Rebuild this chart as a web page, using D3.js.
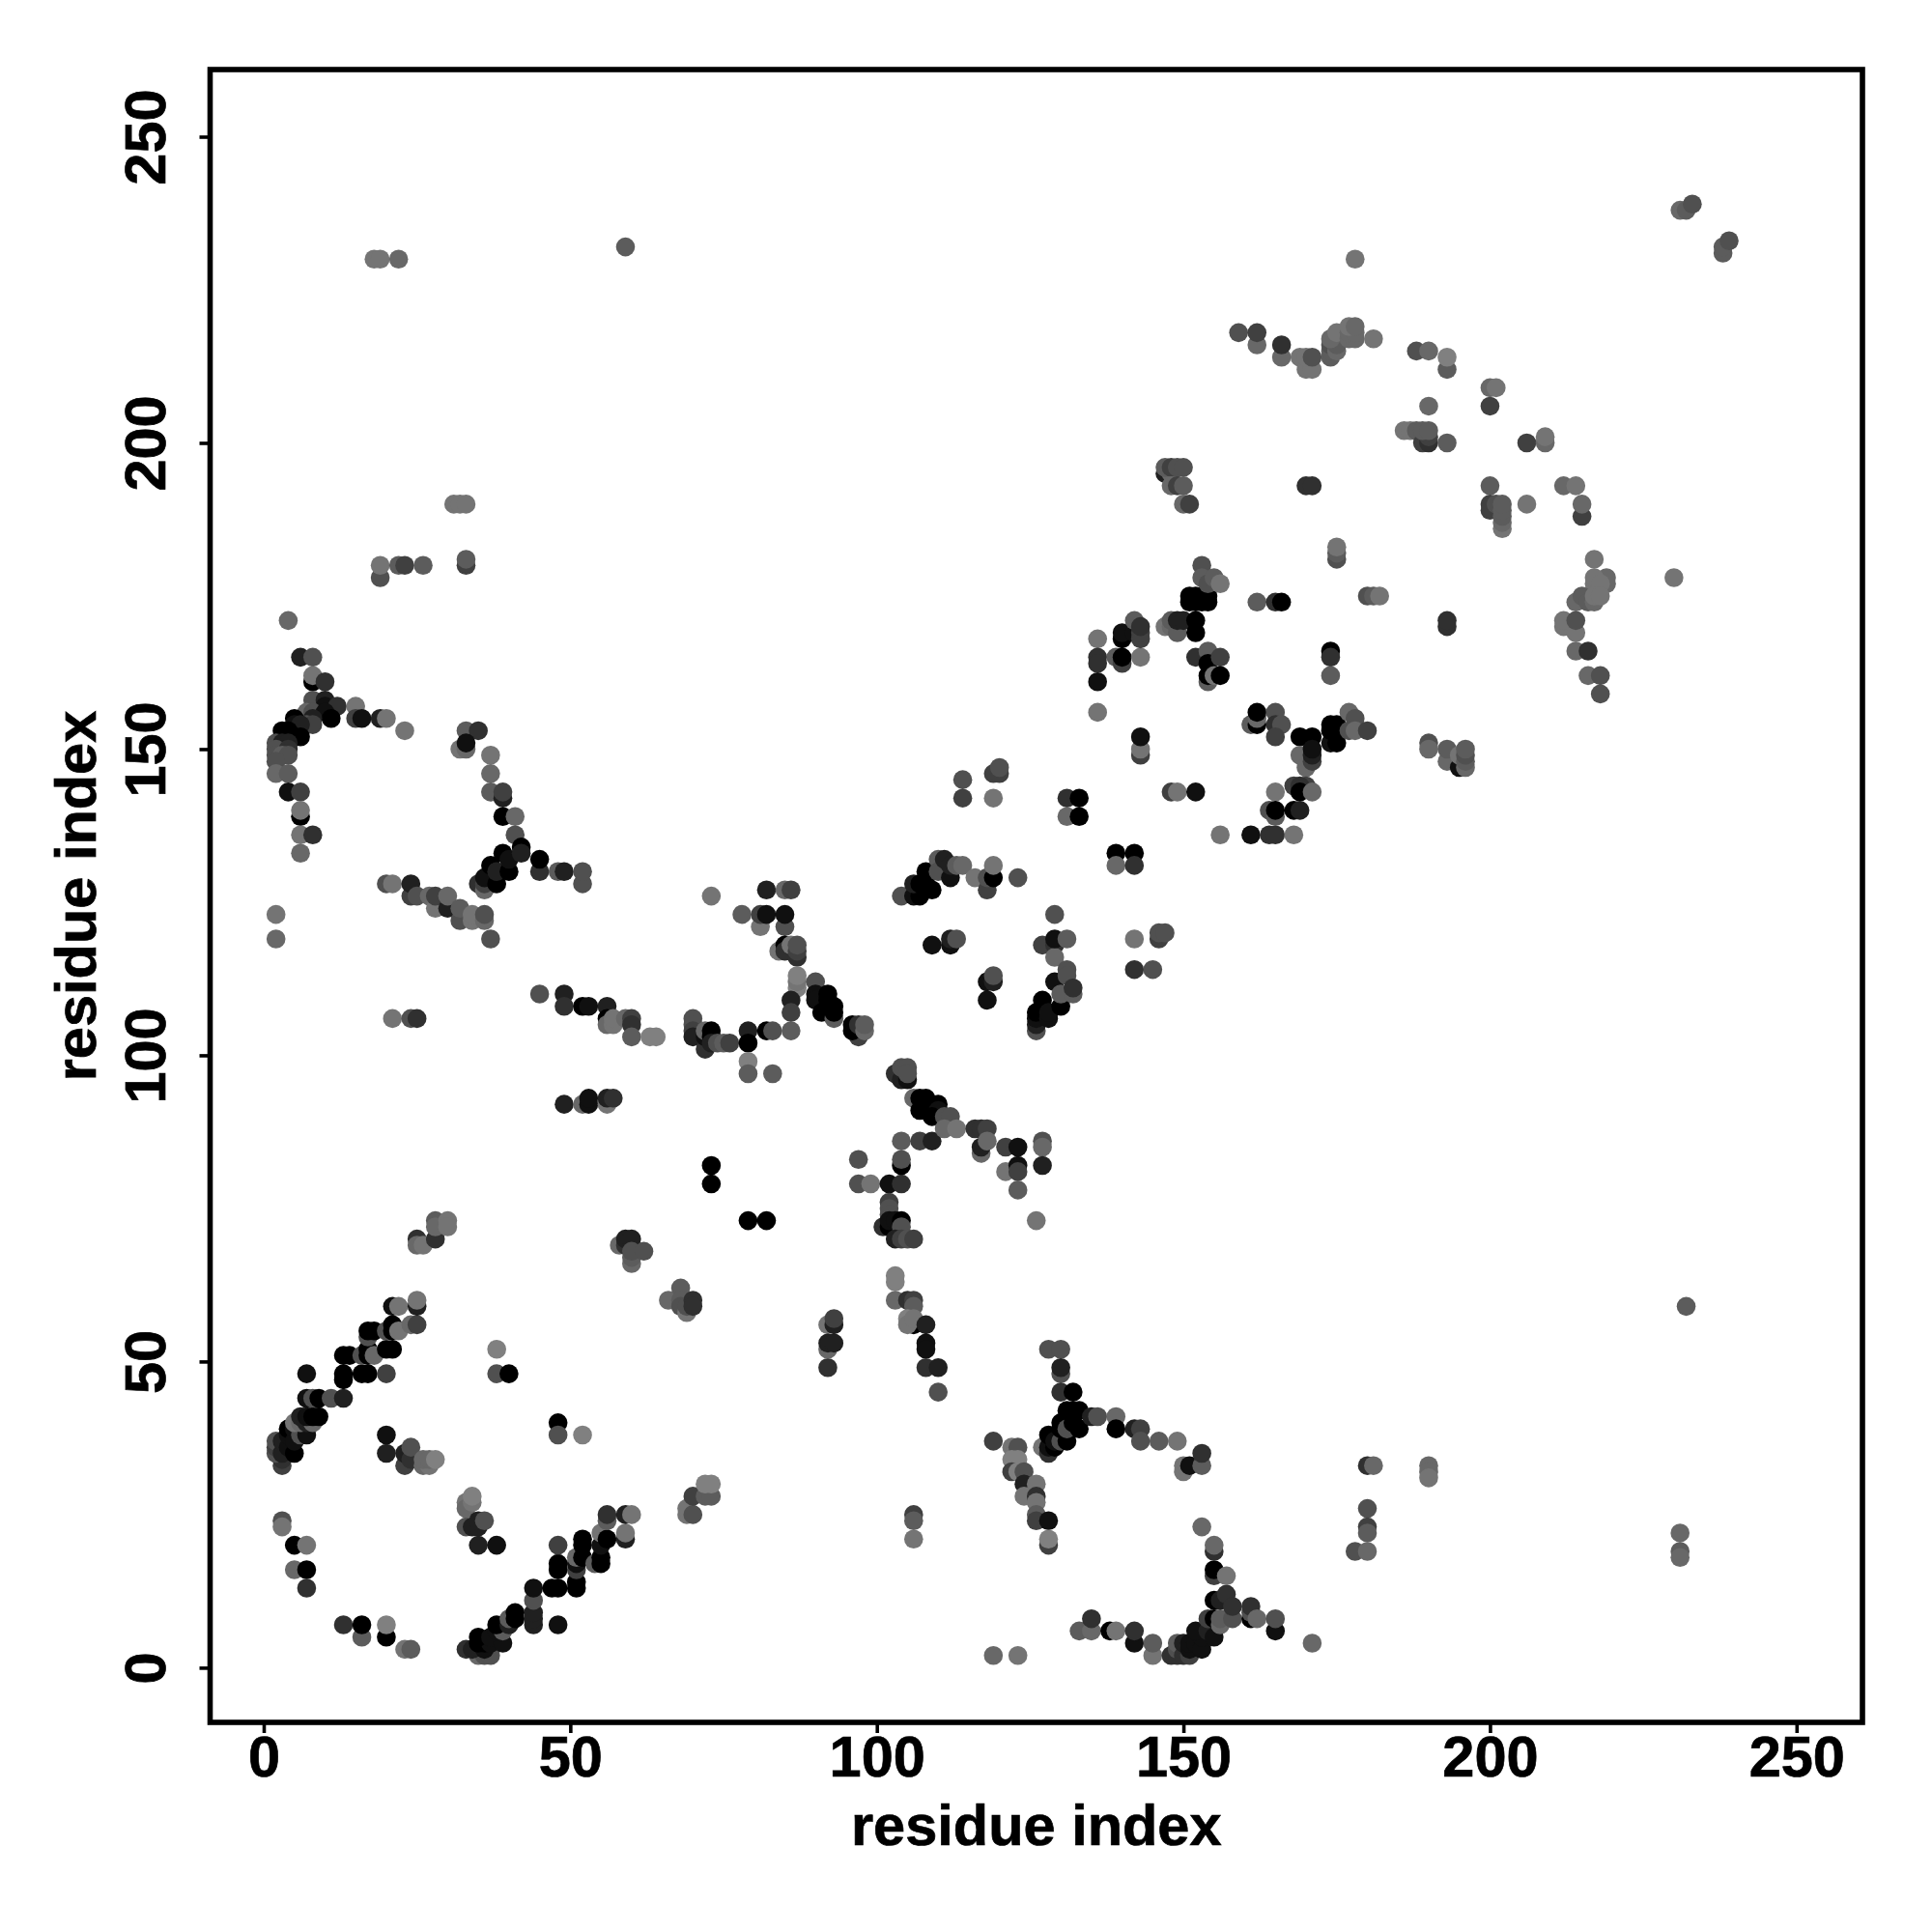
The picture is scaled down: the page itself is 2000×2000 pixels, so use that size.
<!DOCTYPE html>
<html>
<head>
<meta charset="utf-8">
<script src="https://cdn.jsdelivr.net/npm/d3@7"></script>
<style>
  body { margin: 0; background: #fff; }
  text { font-family: "Liberation Sans", Arial, sans-serif; font-weight: bold; fill: #000; stroke: #000; stroke-width: 0.7px; }
</style>
</head>
<body>
<div id="chart"></div>
<script>
const TICKS = [0, 50, 100, 150, 200, 250];
const AXIS_LABEL = 'residue index';

// each contact: [residue i, residue j, strength 1 (weak) .. 10 (strong)]
const bandLowerLeft = [
  [3,33,6],[3,34,7],[2,35,5],[2,36,6],[2,37,5],[3,35,8],[3,37,8],[4,36,9],[5,35,10],[4,38,9],[4,39,10],[5,37,9],[5,39,9],
  [6,38,5],[7,38,9],[5,40,2],[6,40,3],[7,40,8],[8,40,3],[6,41,8],[7,41,9],[8,41,10],[9,41,10],
  [7,44,9],[8,44,5],[9,44,10],[11,44,5],[13,44,8],[7,48,9],[13,47,10],[13,48,10],[16,48,10],[17,48,10],[20,48,6],
  [13,51,10],[14,51,10],[16,51,5],[17,51,10],[17,52,10],[18,51,3],[20,52,10],[21,52,10],
  [17,54,5],[17,55,10],[18,55,10],[20,55,5],[21,56,10],[21,55,10],[22,55,2],[24,56,3],[25,56,6],
  [21,59,9],[22,59,2],[25,59,8],[25,60,2]
];
const patchLowerLeft = [
  [20,38,9],[20,35,8],[23,33,6],[23,35,8],[24,34,7],[24,36,5],[26,33,3],[27,33,2],[26,34,3],[27,34,3],[28,34,1],
  [38,52,1],[38,48,5],[40,48,10],[48,40,10],[48,38,5],[52,38,1],
  [3,24,5],[3,23,2],[5,20,10],[7,20,2],[5,16,3],[7,16,10],[7,13,7],
  [13,7,7],[16,5,4],[16,7,10],[20,5,10],[20,7,1],[23,3,2],[24,3,4],
  [33,23,5],[34,23,8],[33,27,2],[33,26,3],[34,27,2],[34,28,1],[35,23,8],[35,24,8],[36,24,5],[35,20,8],[38,20,9],
  [25,70,7],[25,69,3],[26,69,2],[28,70,7],[28,73,4],[28,72,3],[30,73,2],[30,72,2]
];
const bandStrandOne = [
  [33,3,7],[35,2,3],[36,2,5],[37,2,5],[34,3,8],[36,3,9],[35,4,10],[36,4,10],[37,4,9],[35,5,10],[37,5,9],[39,4,9],
  [38,6,9],[39,6,4],[38,7,10],[40,7,8],[40,8,4],[41,8,10],[41,9,10],[44,7,8],[44,8,8],[44,9,8],[44,11,5],[44,13,9],
  [47,13,10],[48,13,10],[48,7,9],[51,13,10],[51,14,10],[48,16,10],[48,17,10],[48,20,6],[51,16,6],[51,17,9],[51,18,3],
  [52,18,10],[54,17,4],[55,17,10],[55,18,10],[52,20,10],[52,21,10],[55,20,9],[55,22,2],[56,21,10],
  [59,21,8],[59,22,2],[56,24,4],[56,25,7],[59,25,8],[60,25,2]
];
const patchMiddleLow = [
  [69,25,2],[69,26,2],[70,25,5],[70,28,6],[72,28,4],[73,28,4],[72,30,1],[73,30,1],
  [66,60,3],[68,62,4],[68,60,4],[68,59,5],[69,58,2],[69,59,5],[70,60,7],[70,59,7],
  [58,69,3],[59,69,7],[59,70,8],[60,70,8],[60,66,3],[60,67,4],[60,68,5],[62,68,5],
  [73,82,10],[73,79,10],[79,73,10],[82,73,10],
  [92,49,7],[92,52,3],[92,56,2],[92,53,8],[93,53,8],[93,56,8],[93,57,6],
  [103,64,1],[103,63,1],[103,60,3],[105,60,7],[106,60,6],[106,59,4],[105,57,1],[106,56,10],[105,56,2],[106,57,2],
  [108,56,8],[108,53,9],[108,52,9],[108,49,7],[110,49,8],[110,45,5],
  [106,25,6],[106,24,4],[106,21,2]
];
const strandMiddleHigh = [
  [97,83,5],[97,79,5],[99,79,2],[102,79,9],[104,79,7],[104,82,10],[104,83,5],[104,86,4],[107,86,6],[109,86,8],
  [102,76,6],[102,75,5],[102,74,5],[101,72,7],[102,72,10],[102,73,9],[103,73,9],[104,73,10],[104,72,5],
  [103,70,8],[104,70,6],[105,70,5],[106,70,6],
  [103,97,7],[104,96,8],[105,96,9],[104,98,5],[105,98,5],[105,97,5],
  [106,93,3],[107,93,10],[108,93,10],[107,91,10],[108,92,10],[110,92,10],[110,91,9],[109,90,10],[111,90,5],[112,90,5],
  [111,88,3],[113,88,2],[116,88,7],[117,88,7],[118,88,6],[117,84,3],[117,85,8],[118,86,3],
  [121,85,6],[123,85,9],[121,81,2],[123,82,9],[123,81,6],[123,78,4],[127,86,5],[127,85,3],[127,82,8],[126,73,2]
];
const bandTopLeft = [
  [4,171,3],[6,165,8],[8,165,5],[8,161,10],[8,162,2],[10,161,7],[8,158,5],[10,158,8],[10,157,9],[12,157,7],[15,157,2],
  [7,156,3],[8,156,5],[10,156,9],[11,155,10],[8,155,8],[7,154,5],[8,154,6],[5,155,10],[5,154,9],[6,154,8],[6,152,10],
  [3,153,10],[4,153,10],[5,152,10],[2,151,5],[3,151,8],[4,151,8],[2,150,5],[4,150,7],[2,149,5],[3,149,4],[4,149,5],[2,148,5],
  [2,146,3],[4,146,4],[4,143,9],[6,143,6],[6,139,10],[6,140,2],[6,136,2],[8,136,7],[6,133,3],
  [15,155,6],[16,155,9],[19,155,8],[20,155,2],[23,153,2],[2,123,2],[2,119,3]
];
const bandHelixTwo = [
  [33,153,4],[35,153,7],[32,150,2],[33,150,3],[33,151,9],[37,149,2],[37,146,3],[37,143,4],[39,142,8],[39,143,6],[39,139,10],[41,139,3],
  [41,136,5],[35,128,7],[36,127,3],[36,128,6],[36,129,9],[37,131,10],[38,128,10],[38,130,8],[39,133,10],[40,130,10],[40,132,9],
  [42,134,10],[42,133,8],[45,130,7],[45,132,10],[48,130,4],[49,130,8],[52,128,5],[52,130,5],
  [20,128,5],[21,128,2],[24,126,6],[24,128,8],[25,126,5],[27,126,3],[28,124,2],[28,126,6],[30,124,8],[30,126,3],[32,122,5],[32,124,4],
  [34,122,2],[34,123,2],[36,122,3],[36,123,5],[37,119,5]
];
const sparseTopLeft = [
  [18,230,2],[19,230,2],[22,230,3],[59,232,4],[31,190,2],[32,190,2],[33,190,2],
  [19,178,5],[19,180,2],[22,180,4],[23,180,6],[26,180,4],[33,180,6],[33,181,4],
  [21,106,2],[24,106,5],[25,106,7],[49,92,8],[52,92,3],[53,92,9],[53,93,9],[56,92,2],[56,93,8],[57,93,7]
];
const bandDiagonalLeft = [
  [45,110,5],[49,110,8],[49,108,7],[52,108,10],[53,108,9],[56,108,8],[56,106,10],[56,105,3],[57,105,2],[57,106,2],[59,106,3],
  [60,106,6],[60,105,7],[60,103,4],[63,103,1],[64,103,1],
  [70,106,5],[70,105,5],[70,104,6],[70,103,8],[72,101,7],[72,103,9],[72,104,3],[73,103,10],[73,104,10],[73,102,8],[74,102,5],[75,102,4],[76,102,6],
  [79,104,8],[79,102,10],[79,99,1],[79,97,4],[83,97,4],[82,104,10],[83,104,5],[86,104,4],
  [73,126,2],[82,127,8],[85,127,3],[86,127,6],[78,123,4],[81,121,2],[81,123,6],[82,123,9],[85,121,5],[85,123,9],
  [84,117,2],[85,118,10],[85,117,7],[86,118,2],[87,116,7],[87,117,6],[87,118,5],
  [87,111,1],[87,112,2],[87,113,1],[90,112,5],[86,109,8],[86,107,6],[90,110,9],[90,109,9],[91,107,10],[92,110,10],[92,109,10],
  [93,106,4],[93,108,10],[93,107,10],[97,103,6],[96,105,10],[96,104,10],[97,105,7],[98,104,3],[98,105,4]
];
const patchCenterRight = [
  [104,126,5],[106,126,9],[107,126,10],[106,128,8],[107,128,10],[108,128,10],[109,127,10],[108,130,10],[110,132,4],[110,130,5],[111,132,8],
  [112,129,9],[112,131,8],[113,131,4],[114,131,3],[116,129,2],[118,127,6],[118,129,5],[119,129,10],[119,131,2],[123,129,5],
  [114,145,5],[114,142,6],[119,146,6],[120,146,6],[120,147,5],[119,142,2],
  [131,142,7],[133,142,10],[131,139,3],[133,139,10],[139,133,10],[142,133,10],[139,131,3],[142,131,7],
  [109,118,9],[112,118,9],[112,119,8],[113,119,5],[118,112,9],[119,112,8],[119,113,5],[118,109,9],
  [129,123,5],[127,118,6],[129,118,7],[129,116,3],[129,119,9],[131,119,4],
  [126,104,5],[126,105,8],[126,106,9],[126,107,10],[127,109,10],[128,106,9],[128,107,9],[129,112,9],[130,108,10],[130,110,4],
  [131,114,5],[131,113,5],[132,110,4],[132,111,7],
  [142,119,2],[146,119,6],[146,120,5],[147,120,5],[142,114,7],[145,114,5]
];
const bandLowerRight = [
  [128,52,5],[130,52,5],[130,48,5],[130,49,8],[130,45,7],[132,45,10],
  [127,36,2],[128,35,7],[128,36,9],[128,38,10],[129,36,10],[129,37,9],[130,37,5],[131,37,10],[130,39,10],[130,40,10],[131,39,5],[132,40,10],
  [131,42,10],[132,42,10],[133,42,10],[133,39,10],[135,41,8],[136,41,5],[139,41,3],[139,39,10],[142,39,8],[143,39,6],[143,37,5],[146,37,4],[149,37,2],
  [150,32,2],[150,33,2],[151,33,9],[153,33,4],[153,35,7],
  [119,37,6],[122,36,2],[123,36,5],[122,34,1],[123,34,1],[122,32,6],[123,32,1],[124,32,5],[124,30,8],[126,30,2],[124,28,2],[126,28,7],[126,27,2],
  [126,25,4],[126,24,6],[128,24,9],[128,20,6],[128,21,1],
  [119,2,3],[123,2,2],[133,6,4],[135,6,3],[135,8,7],[138,6,10],[139,6,2],[142,4,9],[142,6,7],[145,2,2],[145,4,4],[171,4,3],
  [148,2,7],[149,2,7],[149,3,5],[149,4,4],[150,2,7],[151,2,6],[150,4,8],[151,3,9],[151,4,9],[152,4,9],[153,3,9],[153,5,9],[152,6,9],[154,6,8],[155,5,9],
  [154,8,6],[155,8,10],[156,7,3],[156,8,4],[158,8,5],[155,11,10],[156,11,8],[157,12,7],[158,10,7],
  [161,8,10],[161,9,5],[161,10,7],[162,8,3],[165,6,9],[165,8,5],
  [155,15,6],[155,16,10],[157,15,2],[155,19,7],[155,20,3],[153,23,3]
];
const sparseLowerRight = [
  [180,33,7],[181,33,3],[190,33,3],[190,32,3],[190,31,2],[180,26,5],[180,23,6],[180,22,4],[178,19,5],[180,19,3],
  [232,59,4],[231,22,3],[231,19,4],[231,18,3]
];
const patchUpperRight = [
  [136,168,2],[136,165,7],[136,164,7],[136,161,9],[136,156,2],[139,165,4],[140,164,6],[140,165,10],[140,168,10],[140,169,9],
  [142,169,9],[142,171,4],[143,165,2],[143,168,6],[143,169,6],[143,170,7],[143,149,6],[143,150,2],[143,152,9],
  [147,170,2],[148,170,3],[148,171,4],[149,169,4],[149,171,8],[150,171,8],[152,169,10],[152,171,10],
  [151,174,10],[152,174,10],[153,174,10],[154,174,10],[151,175,10],[152,175,10],[153,175,10],[154,175,10],
  [153,180,5],[153,178,4],[154,177,5],[155,178,4],[156,177,2],
  [152,165,7],[154,166,4],[154,164,10],[156,165,6],[154,161,4],[154,162,10],[155,162,2],[156,162,10],
  [162,174,4],[165,174,7],[166,174,10],[174,166,10],[174,165,7],[174,162,4],
  [161,154,4],[162,154,10],[162,155,3],[162,156,10],[165,156,5],[165,154,7],[166,154,5],[165,152,6],
  [169,152,10],[171,152,10],[169,149,3],[170,147,3],[171,148,6],[171,149,8],[171,150,9],
  [174,151,9],[175,151,10],[174,153,10],[175,153,10],[174,154,10],[175,154,10],[177,156,3],[178,155,5],[177,153,5],[178,153,3],[180,153,6],
  [148,143,6],[149,143,2],[152,143,9],[156,136,2],[161,136,9],[164,136,7],[165,136,7],[168,136,2],
  [165,143,2],[168,144,6],[170,144,6],[169,144,7],[169,143,10],[171,143,3],
  [164,140,5],[165,139,4],[165,140,10],[168,140,10],[169,140,8],
  [190,151,5],[190,150,3],[193,148,3],[193,150,4],[195,147,9],[195,149,2],[196,147,3],[196,148,4],[196,149,5],[196,150,4]
];
const bandTopRight = [
  [147,195,8],[148,195,3],[147,196,4],[148,196,6],[149,196,5],[150,196,5],[148,193,3],[149,193,6],[150,193,4],[150,190,3],[151,190,6],
  [170,193,7],[171,193,7],[175,181,5],[175,182,4],[175,183,2],[180,175,5],[181,175,4],[182,175,2],[193,170,7],[193,171,7],
  [159,218,5],[162,216,3],[162,218,6],[166,214,3],[166,216,7],[169,214,2],[170,212,2],[171,212,2],[170,214,2],[171,214,5],
  [174,214,4],[174,215,4],[174,216,5],[175,215,3],[175,216,4],[174,217,3],[175,218,2],
  [177,217,3],[178,217,3],[177,218,3],[178,218,3],[177,219,2],[178,219,3],[181,217,2],[178,230,2],
  [188,215,5],[190,215,3],[193,212,4],[193,214,1],[200,206,6],[200,209,3],[201,209,2],[190,206,3],
  [186,202,2],[187,202,2],[188,202,4],[189,200,6],[190,200,7],[190,201,6],[189,202,4],[190,202,4],[193,200,4],
  [206,200,6],[209,200,3],[209,201,2],
  [200,193,4],[200,190,6],[200,189,6],[201,190,5],[206,190,2],[202,186,2],[202,187,3],[202,188,4],[202,189,4],[202,190,4],
  [212,193,3],[214,193,2],[215,188,6],[215,190,3],
  [217,181,2],[219,177,3],[219,178,3],[217,177,2],[217,178,2],[218,177,2],[214,174,3],[215,175,4],[216,174,4],[217,174,3],[217,175,2],[218,175,2],
  [212,170,2],[212,171,2],[214,169,2],[214,171,5],[214,166,3],[216,166,7],[216,162,3],[218,162,5],[218,159,5],
  [230,178,2],[231,238,3],[232,238,4],[233,239,5],[238,231,4],[238,232,4],[239,233,5]
];

const contacts = [].concat(
  bandLowerLeft, patchLowerLeft, bandStrandOne, patchMiddleLow, strandMiddleHigh, bandTopLeft,
  bandHelixTwo, sparseTopLeft, bandDiagonalLeft, patchCenterRight, bandLowerRight, sparseLowerRight,
  patchUpperRight, bandTopRight
);

const FRAME = { left: 217.5, right: 1928, top: 72, bottom: 1783 };
const FONT_SIZE = 59.5;
const DOT_RADIUS = 9.8;

const svg = d3.select('#chart').append('svg')
  .attr('width', 2000)
  .attr('height', 2000);

const x = d3.scaleLinear().domain([0, 250]).range([273, 1859.8]);
const y = d3.scaleLinear().domain([0, 250]).range([1726.4, 141.5]);
const grey = d3.scaleLinear().domain([1, 5, 10]).range(['#808080', '#505050', '#000000']);

svg.selectAll('.dot')
  .data(contacts)
  .enter()
  .append('circle')
  .classed('dot', true)
  .attr('cx', d => x(d[0]))
  .attr('cy', d => y(d[1]))
  .attr('r', DOT_RADIUS)
  .style('fill', d => grey(d[2]));

const xAxis = svg.append('g')
  .attr('transform', 'translate(0,' + FRAME.bottom + ')')
  .call(d3.axisBottom(x).tickValues(TICKS).tickSize(11).tickPadding(14));

const yAxis = svg.append('g')
  .attr('transform', 'translate(' + FRAME.left + ',0)')
  .call(d3.axisLeft(y).tickValues(TICKS).tickSize(11).tickPadding(14));

[xAxis, yAxis].forEach(axis => {
  axis.select('.domain').remove();
  axis.selectAll('line').attr('stroke', '#000').attr('stroke-width', 3.6);
  axis.selectAll('text').style('font-size', FONT_SIZE + 'px');
});

xAxis.selectAll('text')
  .attr('dy', null)
  .attr('y', null)
  .attr('text-anchor', 'middle')
  .attr('transform', 'translate(0,56)');

yAxis.selectAll('text')
  .attr('x', null)
  .attr('dy', null)
  .attr('text-anchor', 'middle')
  .attr('transform', 'translate(-46.5,0) rotate(-90)');

svg.append('rect')
  .attr('x', FRAME.left)
  .attr('y', FRAME.top)
  .attr('width', FRAME.right - FRAME.left)
  .attr('height', FRAME.bottom - FRAME.top)
  .style('fill', 'none')
  .style('stroke', '#000')
  .style('stroke-width', 5.6);

svg.append('text')
  .attr('x', (FRAME.left + FRAME.right) / 2)
  .attr('y', 1910)
  .attr('text-anchor', 'middle')
  .style('font-size', FONT_SIZE + 'px')
  .text(AXIS_LABEL);

svg.append('text')
  .attr('transform', 'translate(99,' + (FRAME.top + FRAME.bottom) / 2 + ') rotate(-90)')
  .attr('text-anchor', 'middle')
  .style('font-size', FONT_SIZE + 'px')
  .text(AXIS_LABEL);
</script>
</body>
</html>
